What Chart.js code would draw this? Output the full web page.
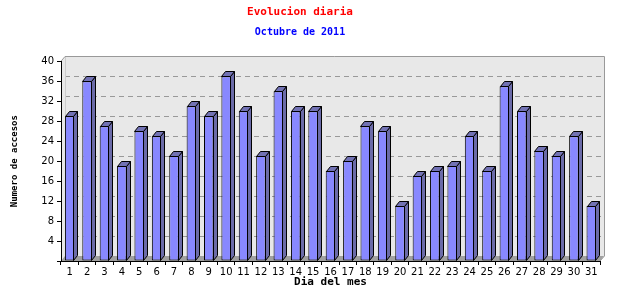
<!DOCTYPE html>
<html>
<head>
<meta charset="utf-8">
<script src="https://cdn.jsdelivr.net/npm/chart.js@4"></script>
<style>
  html, body { margin: 0; padding: 0; background: #fff; }
</style>
</head>
<body>
<canvas id="accesos" width="640" height="300"></canvas>
<script>
// Datos del grafico
const dias = ['1', '2', '3', '4', '5', '6', '7', '8', '9', '10', '11', '12', '13', '14', '15', '16',
              '17', '18', '19', '20', '21', '22', '23', '24', '25', '26', '27', '28', '29', '30', '31'];
const accesos = [29, 36, 27, 19, 26, 25, 21, 31, 29, 37, 30, 21, 34, 30, 30, 18,
                 20, 27, 26, 11, 17, 18, 19, 25, 18, 35, 30, 22, 21, 25, 11];
const yMin = 0;
const yMax = 40;
const yPaso = 4;

// profundidad del efecto 3D
const DX = 4;
const DY = 5;

const efecto3d = {
    id: 'efecto3d',
    beforeDraw(chart) {
        const { ctx, chartArea: a, scales: { y } } = chart;
        const top = y.getPixelForValue(yMax);
        const base = y.getPixelForValue(yMin);
        ctx.save();

        // pared del fondo
        ctx.fillStyle = '#e8e8e8';
        ctx.beginPath();
        ctx.moveTo(a.left, top);
        ctx.lineTo(a.left + DX, top - DY);
        ctx.lineTo(a.right + DX, top - DY);
        ctx.lineTo(a.right + DX, base - DY);
        ctx.lineTo(a.right, base);
        ctx.lineTo(a.left, base);
        ctx.closePath();
        ctx.fill();

        // suelo
        ctx.fillStyle = '#a0a0a0';
        ctx.beginPath();
        ctx.moveTo(a.left, base);
        ctx.lineTo(a.left + DX, base - DY);
        ctx.lineTo(a.right + DX, base - DY);
        ctx.lineTo(a.right, base);
        ctx.closePath();
        ctx.fill();

        // lineas de la rejilla (sobre la pared)
        ctx.strokeStyle = '#999999';
        ctx.lineWidth = 1;
        ctx.setLineDash([5, 4]);
        y.ticks.forEach(t => {
            if (t.value <= yMin || t.value >= yMax) return;
            const py = Math.round(y.getPixelForValue(t.value) - DY) + 0.5;
            ctx.beginPath();
            ctx.moveTo(a.left + DX, py);
            ctx.lineTo(a.right + DX, py);
            ctx.stroke();
        });
        ctx.setLineDash([]);

        // borde izquierdo de la pared
        ctx.strokeStyle = '#cccccc';
        ctx.beginPath();
        ctx.moveTo(Math.round(a.left + DX) + 0.5, top - DY);
        ctx.lineTo(Math.round(a.left + DX) + 0.5, base - DY);
        ctx.stroke();

        // marco
        ctx.strokeStyle = '#999999';
        ctx.beginPath();
        ctx.moveTo(a.left, top);
        ctx.lineTo(a.left + DX, Math.round(top - DY) + 0.5);
        ctx.lineTo(Math.round(a.right + DX) + 0.5, Math.round(top - DY) + 0.5);
        ctx.lineTo(Math.round(a.right + DX) + 0.5, base - DY);
        ctx.lineTo(a.right, base);
        ctx.stroke();
        ctx.restore();
    },
    afterDatasetsDraw(chart) {
        const { ctx } = chart;
        ctx.save();
        ctx.lineWidth = 1;
        ctx.strokeStyle = '#000000';
        chart.getDatasetMeta(0).data.forEach(bar => {
            const { x, y, base, width } = bar.getProps(['x', 'y', 'base', 'width'], true);
            const l = Math.round(x - width / 2) + 0.5;
            const r = Math.round(x + width / 2) - 0.5;
            const t = Math.round(y) + 0.5;
            const b = Math.round(base) - 0.5;

            // cara lateral
            ctx.fillStyle = '#6b6ba8';
            ctx.beginPath();
            ctx.moveTo(r, t);
            ctx.lineTo(r + DX, t - DY);
            ctx.lineTo(r + DX, b - DY);
            ctx.lineTo(r, b);
            ctx.closePath();
            ctx.fill();
            ctx.stroke();

            // cara superior
            ctx.fillStyle = '#7272b4';
            ctx.beginPath();
            ctx.moveTo(l, t);
            ctx.lineTo(l + DX, t - DY);
            ctx.lineTo(r + DX, t - DY);
            ctx.lineTo(r, t);
            ctx.closePath();
            ctx.fill();
            ctx.stroke();
        });
        ctx.restore();
    }
};

const ctx = document.getElementById('accesos').getContext('2d');

new Chart(ctx, {
    type: 'bar',
    data: {
        labels: dias,
        datasets: [{
            label: 'Accesos',
            data: accesos,
            backgroundColor: '#8888ff',
            borderColor: '#000000',
            borderWidth: 1,
            borderSkipped: false,
            barPercentage: 0.55,
            categoryPercentage: 1.0
        }]
    },
    options: {
        responsive: false,
        animation: false,
        devicePixelRatio: 1,
        layout: {
            padding: { left: 0, right: 40, top: 0, bottom: 0 }
        },
        plugins: {
            legend: { display: false },
            tooltip: { enabled: false },
            title: {
                display: true,
                text: 'Evolucion diaria',
                color: '#ff0000',
                font: { family: 'DejaVu Sans Mono', size: 11, weight: 'bold' },
                padding: { top: 6, bottom: 6 }
            },
            subtitle: {
                display: true,
                text: 'Octubre de 2011',
                color: '#0000ff',
                font: { family: 'DejaVu Sans Mono', size: 10, weight: 'bold' },
                padding: { top: 1, bottom: 23 }
            }
        },
        scales: {
            x: {
                grid: {
                    display: true,
                    drawOnChartArea: false,
                    offset: true,
                    color: '#000000',
                    tickLength: 4
                },
                border: { color: '#000000' },
                ticks: {
                    color: '#000000',
                    font: { family: 'DejaVu Sans', size: 10 },
                    maxRotation: 0,
                    autoSkip: false,
                    padding: 1
                },
                title: {
                    display: true,
                    text: 'Dia del mes',
                    color: '#000000',
                    font: { family: 'DejaVu Sans Mono', size: 11, weight: 'bold' },
                    padding: { top: 0, bottom: 11 }
                },
                afterFit(scale) { scale.height = 39; }
            },
            y: {
                min: yMin,
                max: yMax,
                grid: {
                    display: true,
                    drawOnChartArea: false,
                    color: '#000000',
                    tickLength: 4
                },
                border: { color: '#000000' },
                ticks: {
                    stepSize: yPaso,
                    color: '#000000',
                    font: { family: 'DejaVu Sans', size: 10 },
                    padding: 3,
                    callback: v => (v === 0 ? '' : v)
                },
                title: {
                    display: true,
                    text: 'Numero de accesos',
                    color: '#000000',
                    font: { family: 'DejaVu Sans Mono', size: 9, weight: 'bold' },
                    padding: { top: 9, bottom: 0 }
                },
                afterFit(scale) { scale.width = 61; }
            }
        }
    },
    plugins: [efecto3d]
});
</script>
</body>
</html>
